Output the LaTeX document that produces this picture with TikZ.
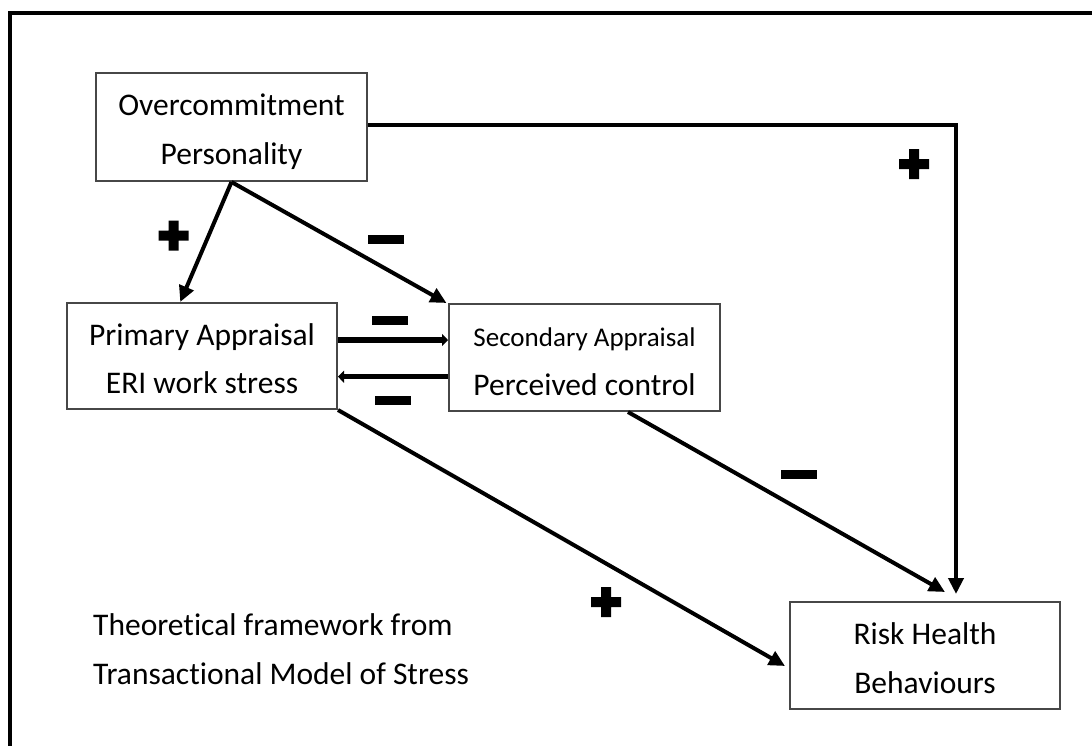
\documentclass[tikz,border=0pt]{standalone}
\usepackage{fontspec}
\setmainfont[Ligatures={NoCommon}]{Carlito}
\usetikzlibrary{arrows.meta,calc}

% strut that fixes the height and depth of every text line
\newcommand\tstrut{\rule[-4pt]{0pt}{35pt}}

\begin{document}
\begin{tikzpicture}[x=1pt,y=-1pt,
  box/.style={draw=black!72, line width=2pt, minimum width=#1, minimum height=107pt,
              inner sep=0pt, align=center, font=\fontsize{31.5}{48.5}\selectfont},
  link/.style={line width=4pt, -{Triangle[length=16pt,width=15pt]}},
  swaplink/.style={line width=5.5pt, -{Triangle[length=6pt,width=12pt]}},
  plusmark/.pic={\fill[black] (-15,-5) rectangle (15,5) (-5,-15) rectangle (5,15);},
  minusmark/.pic={\fill[black] (-18,-4.5) rectangle (18,4.5);}
]
\useasboundingbox (0,0) rectangle (1092,745);
\clip (0,0) rectangle (1092,745);

% outer frame
\draw[line width=4pt] (10,13) rectangle (1110,770);

% boxes
\node[box=271pt, minimum height=108pt] (over) at (231.5,127)
  {\tstrut Overcommitment\\\tstrut Personality};
\node[box=270pt, minimum height=106pt] (prim) at (202,356)
  {\tstrut Primary Appraisal\\\tstrut ERI work stress};
\node[box=271pt] (sec) at (584.5,357.5)
  {{\fontsize{27}{48.5}\selectfont\tstrut Secondary Appraisal}\\\tstrut Perceived control};
\node[box=270pt] (risk) at (925,655.5)
  {\tstrut Risk Health\\\tstrut Behaviours};

\node[anchor=west, align=left, inner sep=0pt, font=\fontsize{31.5}{48.5}\selectfont] (caption) at (93,646.5)
  {\tstrut Theoretical framework from\\\tstrut Transactional Model of Stress};

% connectors
\draw[link] (over.south) -- ($(prim.north west)!0.42!(prim.north east)$);
\draw[link] (over.south) -- ([xshift=-1.5pt]sec.north west);
\draw[link] ([yshift=2pt]over.east) -| ([xshift=31pt,yshift=7pt]risk.north);
\draw[link] (prim.south east) -- ([xshift=-4pt,yshift=-10.5pt]risk.west);
\draw[link] ([xshift=43.5pt]sec.south) -- ([xshift=20pt,yshift=9pt]risk.north);
\draw[swaplink] ([yshift=16pt]prim.east) -- ([yshift=17.5pt]sec.west);
\draw[swaplink] ([yshift=-19.2pt]sec.west) -- ([yshift=-20.7pt]prim.east);

% signs of the effects
\pic at (173.5,235.5) {plusmark};
\pic at (914,164) {plusmark};
\pic at (606,602) {plusmark};
\pic at (386,239.5) {minusmark};
\pic at (390,320) {minusmark};
\pic at (393,400) {minusmark};
\pic at (799,474.5) {minusmark};
\end{tikzpicture}
\end{document}
